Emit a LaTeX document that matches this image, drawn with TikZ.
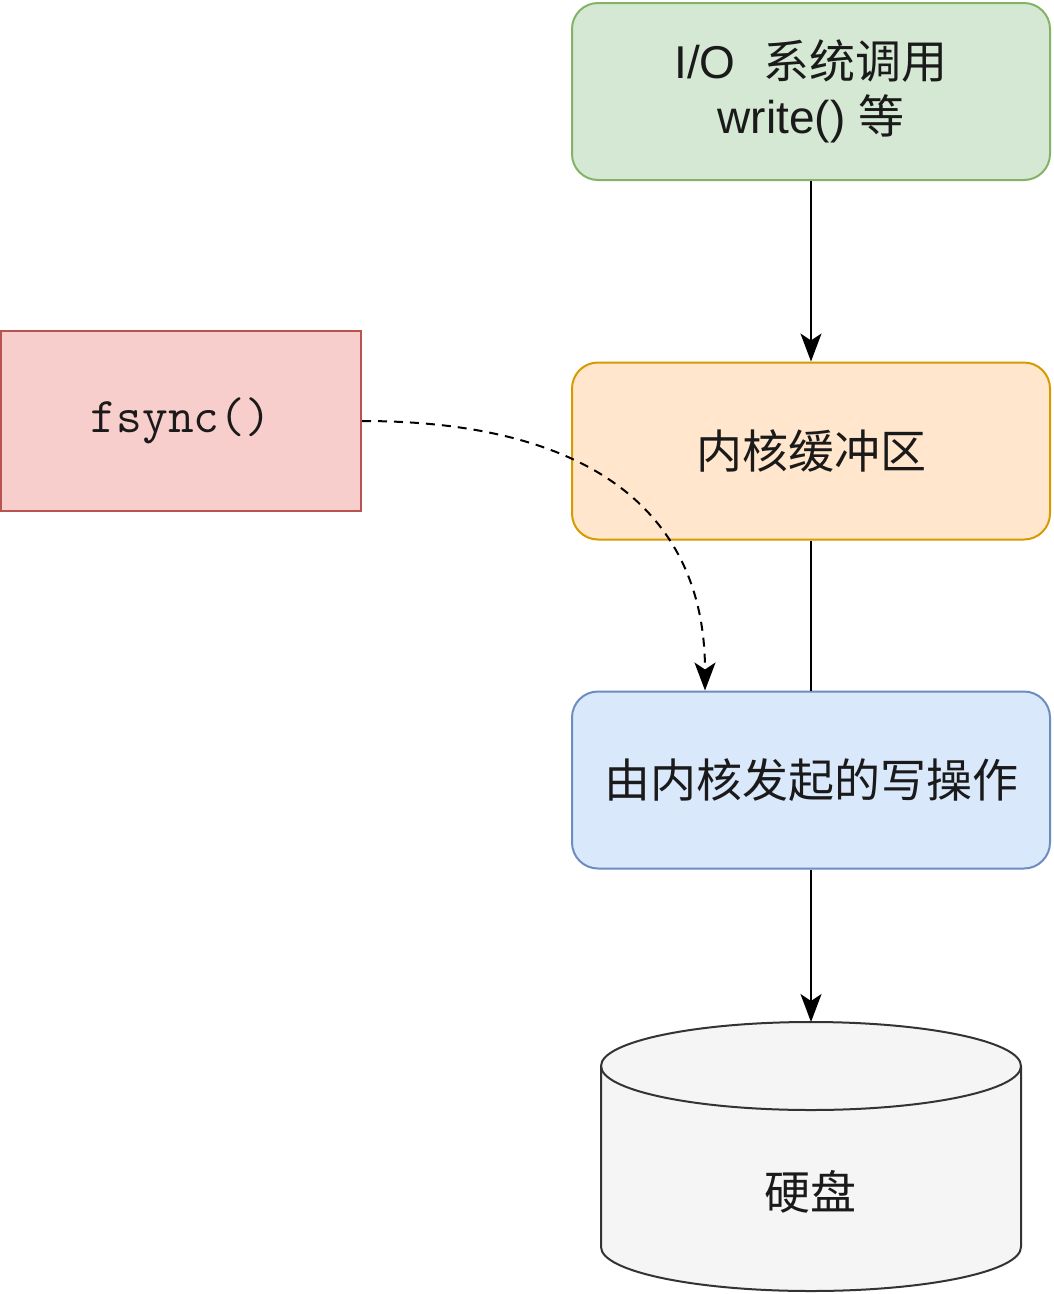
\documentclass[tikz,border=0pt]{standalone}
\usepackage{fontspec}
\setmainfont{Liberation Sans}
\newfontfamily\cjk{Noto Sans CJK SC}
\usetikzlibrary{arrows.meta}
\definecolor{gfill}{HTML}{D5E8D4}\definecolor{gdraw}{HTML}{82B366}
\definecolor{ofill}{HTML}{FFE6CC}\definecolor{odraw}{HTML}{D79B00}
\definecolor{bfill}{HTML}{DAE8FC}\definecolor{bdraw}{HTML}{6C8EBF}
\definecolor{rfill}{HTML}{F8CECC}\definecolor{rdraw}{HTML}{B85450}
\definecolor{dfill}{HTML}{F5F5F5}\definecolor{ddraw}{HTML}{333333}
\definecolor{txt}{HTML}{1A1A1A}
\begin{document}
\begin{tikzpicture}[x=1pt,y=-1pt,
  box/.style={rounded corners=26pt, line width=2pt, minimum width=478pt, minimum height=177pt, inner sep=0pt, text=txt, align=center, font=\fontsize{46}{55}\selectfont},
  conn/.style={line width=2pt, draw=black},
  tip/.style={-{Stealth[length=28pt,width=21pt,inset=7pt]}}
]
\useasboundingbox[fill=white] (0,0) rectangle (1054,1294);
\node[box, fill=gfill, draw=gdraw] (sys) at (811,91.5) {I/O\hspace{28pt}{\cjk 系统调用}\\write() {\cjk 等}};
\node[box, fill=ofill, draw=odraw] (kb) at (811,451) {\cjk 内核缓冲区};
\node[box, fill=bfill, draw=bdraw] (wk) at (811,780) {\cjk 由内核发起的写操作};
\node[draw=rdraw, fill=rfill, line width=2pt, minimum width=360pt, minimum height=180pt, inner sep=0pt, text=txt, font=\ttfamily\fontsize{50}{56}\selectfont] (fs) at (181,421) {fsync()};
% disk cylinder
\path[fill=dfill, draw=ddraw, line width=2pt] (601,1066) -- (601,1247) arc[start angle=180,end angle=360,x radius=210pt,y radius=44pt] -- (1021,1066) arc[start angle=0,end angle=180,x radius=210pt,y radius=44pt] -- cycle;
\draw[ddraw, line width=2pt] (601,1066) arc[start angle=180,end angle=360,x radius=210pt,y radius=44pt];
\coordinate (disktop) at (811,1022);
\node[text=txt, font=\cjk\fontsize{46}{50}\selectfont] (disk) at (810,1192) {硬盘};
% connectors
\draw[conn, tip] (sys.south) -- (kb.north);
\draw[conn] (kb.south) -- (wk.north);
\draw[conn, tip] (wk.south) -- (disktop);
\draw[conn, tip, dash pattern=on 9pt off 7pt] (fs.east) .. controls (600,421) and (705,520) .. ([xshift=-106pt]wk.north);
\end{tikzpicture}
\end{document}
